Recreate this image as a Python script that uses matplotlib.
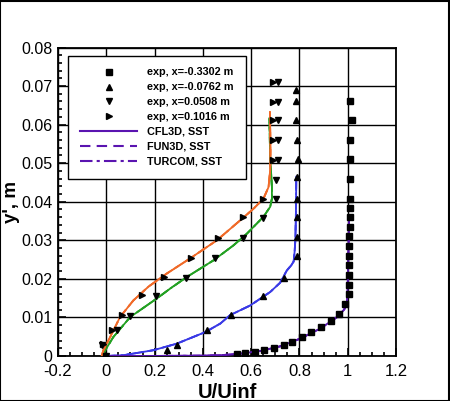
import matplotlib
matplotlib.use("Agg")
import matplotlib.pyplot as plt
from matplotlib.ticker import MultipleLocator
from matplotlib.patches import Rectangle
from matplotlib.lines import Line2D

plt.rcParams['font.family'] = ['Liberation Sans', 'DejaVu Sans']

# ---- experimental data ----
sq_x = [1.011, 1.018, 1.010, 1.010, 1.010, 1.008, 1.008, 1.008, 1.008, 1.007, 1.007,
        1.006, 1.006, 1.005, 1.005, 1.004, 0.99, 0.962, 0.93, 0.89, 0.85, 0.81,
        0.77, 0.735, 0.695, 0.655, 0.615, 0.575, 0.54]
sq_y = [0.0661, 0.0611, 0.0560, 0.0511, 0.0459, 0.0408, 0.0385, 0.0360, 0.0335, 0.0310,
        0.0285, 0.0260, 0.0235, 0.0210, 0.0185, 0.0160, 0.0135, 0.0110, 0.0090, 0.0075,
        0.0062, 0.0049, 0.0037, 0.0028, 0.0020, 0.0015, 0.0010, 0.0007, 0.0004]

up_x = [0.787, 0.787, 0.787, 0.792, 0.796, 0.790, 0.792, 0.792, 0.792, 0.792,
        0.737, 0.650, 0.517, 0.419, 0.294, 0.250, 0.0]
up_y = [0.0690, 0.0661, 0.0611, 0.0561, 0.0511, 0.0464, 0.0408, 0.0361, 0.0309, 0.0259,
        0.0203, 0.0155, 0.0106, 0.0067, 0.0029, 0.0015, 0.0]

dn_x = [0.71, 0.71, 0.71, 0.71, 0.71, 0.704, 0.704, 0.651, 0.566, 0.451, 0.330,
        0.205, 0.099, 0.043, -0.019, 0.0]
dn_y = [0.0711, 0.0659, 0.0611, 0.0560, 0.0509, 0.0456, 0.0406, 0.0358, 0.0305, 0.0255,
        0.0203, 0.0156, 0.0104, 0.0068, 0.0028, 0.0]

rt_x = [0.69, 0.69, 0.69, 0.69, 0.69, 0.649, 0.566, 0.461, 0.350, 0.241, 0.147,
        0.064, 0.023, -0.015, 0.0]
rt_y = [0.0711, 0.0659, 0.0611, 0.0560, 0.0509, 0.0408, 0.0361, 0.0306, 0.0255, 0.0205,
        0.0157, 0.0106, 0.0068, 0.0030, 0.0]

# ---- computed profiles ----
p_x = [0.0, 0.2, 0.4, 0.472, 0.555, 0.638, 0.72, 0.803, 0.886, 0.956, 0.985, 0.997,
       1.0, 1.002, 1.004, 1.005]
p_y = [0.0, 0.00002, 0.0001, 0.0002, 0.0006, 0.0013, 0.0025, 0.0045, 0.0071, 0.0101,
       0.0120, 0.0136, 0.018, 0.024, 0.030, 0.0352]

b_x = [0.0, 0.071, 0.195, 0.292, 0.41, 0.472, 0.513, 0.596, 0.679, 0.72, 0.748,
       0.766, 0.776, 0.780, 0.783, 0.785, 0.786, 0.787]
b_y = [0.0, 0.0002, 0.0015, 0.0032, 0.0062, 0.0084, 0.0106, 0.0131, 0.0166, 0.0190,
       0.0222, 0.0235, 0.0245, 0.027, 0.030, 0.035, 0.0400, 0.0465]

g_x = [-0.019, 0.029, 0.099, 0.209, 0.265, 0.334, 0.444, 0.527, 0.582, 0.651,
       0.679, 0.686, 0.686, 0.682, 0.679, 0.676, 0.675]
g_y = [0.0, 0.0049, 0.0101, 0.0149, 0.0175, 0.0205, 0.0248, 0.0287, 0.0317,
       0.0361, 0.0387, 0.0408, 0.0438, 0.0482, 0.0508, 0.0603, 0.0616]

o_x = [-0.019, -0.012, 0.016, 0.057, 0.112, 0.175, 0.251, 0.347, 0.458, 0.555, 0.610,
       0.651, 0.672, 0.679, 0.680, 0.679, 0.678]
o_y = [0.0, 0.0015, 0.0049, 0.0101, 0.0144, 0.0180, 0.0214, 0.0253, 0.0300, 0.0352,
       0.0382, 0.0408, 0.0438, 0.0482, 0.0530, 0.0590, 0.0633]

labels_exp = ['exp, x=-0.3302 m', 'exp, x=-0.0762 m', 'exp, x=0.0508 m', 'exp, x=0.1016 m']
labels_cfd = ['CFL3D, SST', 'FUN3D, SST', 'TURCOM, SST']

c_purple = '#5a14b0'
c_blue = '#3a3ae6'
c_green = '#22a022'
c_orange = '#f06a28'

fig = plt.figure(figsize=(4.5, 4.01), dpi=100)
ax = fig.add_axes([58 / 450, 45 / 401, 338 / 450, 308.5 / 401])

styles = ['-', (0, (5, 3)), (0, (6, 2, 1.5, 2))]
for xs, ys, col in [(b_x, b_y, c_blue), (g_x, g_y, c_green), (o_x, o_y, c_orange),
                    (p_x, p_y, c_purple)]:
    for ls in styles:
        ax.plot(xs, ys, color=col, lw=1.3, ls=ls, zorder=3)

ms = 5
ax.plot(sq_x, sq_y, ls='none', marker='s', color='black', ms=ms, zorder=4)
ax.plot(up_x, up_y, ls='none', marker='^', color='black', ms=ms, zorder=4)
ax.plot(dn_x, dn_y, ls='none', marker='v', color='black', ms=ms, zorder=4)
ax.plot(rt_x, rt_y, ls='none', marker='>', color='black', ms=ms, zorder=4)

ax.set_xlim(-0.2, 1.2)
ax.set_ylim(0, 0.08)
ax.xaxis.set_minor_locator(MultipleLocator(0.05))
ax.yaxis.set_minor_locator(MultipleLocator(0.002))
ax.set_xticks([-0.2, 0, 0.2, 0.4, 0.6, 0.8, 1.0, 1.2])
ax.set_xticklabels(['-0.2', '0', '0.2', '0.4', '0.6', '0.8', '1', '1.2'])
ax.set_yticks([0, 0.01, 0.02, 0.03, 0.04, 0.05, 0.06, 0.07, 0.08])
ax.set_yticklabels(['0', '0.01', '0.02', '0.03', '0.04', '0.05', '0.06', '0.07', '0.08'])
ax.tick_params(which='both', direction='in', top=False, right=False, width=1.2)
ax.tick_params(axis='x', labelsize=12)
ax.tick_params(axis='y', labelsize=11.5)
ax.tick_params(which='major', length=6)
ax.tick_params(which='minor', length=3)
ax.tick_params(axis='x', which='major', pad=6)
ax.tick_params(axis='y', which='major', pad=4)
ax.grid(True, which='major', color='black', lw=1.0)
ax.set_axisbelow(True)
for s in ax.spines.values():
    s.set_linewidth(1.3)

ax.set_xlabel('U/Uinf', fontsize=14.5, fontweight='bold', labelpad=3)
ax.set_ylabel("y', m", fontsize=13.5, fontweight='bold', labelpad=1)

handles = [
    Line2D([], [], ls='none', marker='s', color='black', ms=ms),
    Line2D([], [], ls='none', marker='^', color='black', ms=ms),
    Line2D([], [], ls='none', marker='v', color='black', ms=ms),
    Line2D([], [], ls='none', marker='>', color='black', ms=ms),
    Line2D([], [], ls='-', color=c_purple, lw=1.5),
    Line2D([], [], ls=(0, (5, 3)), color=c_purple, lw=1.5),
    Line2D([], [], ls=(0, (6, 2, 1.5, 2)), color=c_purple, lw=1.5),
]
leg = ax.legend(handles, labels_exp + labels_cfd, loc='upper left',
                bbox_to_anchor=(10 / 338, 1 - 8 / 308.5), borderaxespad=0,
                fancybox=False, edgecolor='black', framealpha=1,
                prop={'size': 7.8, 'weight': 'bold'}, handlelength=5.3,
                labelspacing=0.45, borderpad=1.1, handletextpad=0.9)
leg.get_frame().set_linewidth(1.0)
leg.set_zorder(6)

fig.patches.append(Rectangle((0.001, 0.001), 0.997, 0.997, transform=fig.transFigure,
                             fill=False, edgecolor='black', lw=1.5))

fig.savefig('out.png', dpi=100)
